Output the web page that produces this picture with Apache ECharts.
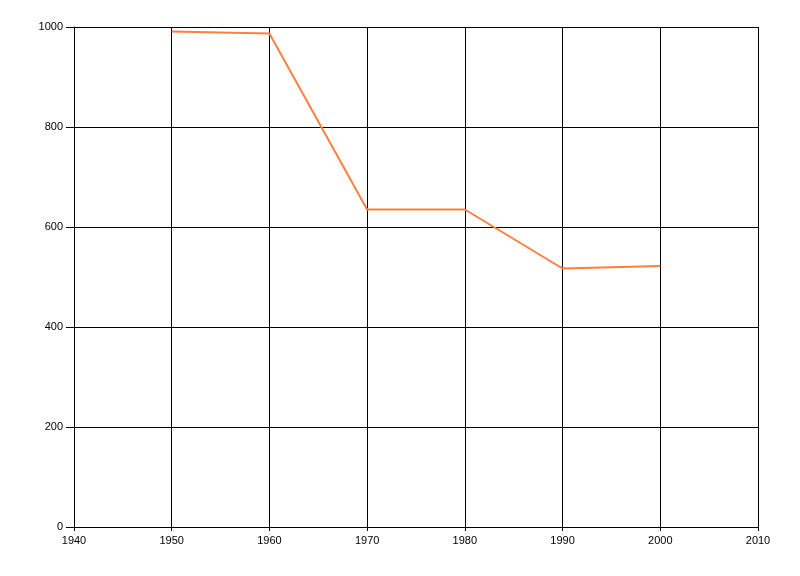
<!DOCTYPE html>
<html><head><meta charset="utf-8">
<script src="https://cdn.jsdelivr.net/npm/echarts@6/dist/echarts.min.js"></script>
<style>html,body{margin:0;padding:0;background:#fff}#c{width:800px;height:576px}</style>
</head><body><div id="c"></div>
<script>
const years = [1950, 1960, 1970, 1980, 1990, 2000];
const values = [991, 987, 635, 635, 517, 522];
const chart = echarts.init(document.getElementById('c'));
chart.setOption({
  animation: false,
  backgroundColor: '#fff',
  grid: {left: 74, right: 42, top: 27, bottom: 49, containLabel: false},
  xAxis: {
    type: 'value', min: 1940, max: 2010, interval: 10,
    axisLine: {show: true, lineStyle: {color: '#000', width: 1}},
    axisTick: {show: true, length: 4, lineStyle: {color: '#000'}},
    axisLabel: {color: '#000', fontFamily: 'Liberation Sans', fontSize: 11, margin: 8, formatter: v => String(v)},
    splitLine: {show: true, lineStyle: {color: '#000', width: 1}}
  },
  yAxis: {
    type: 'value', min: 0, max: 1000, interval: 200,
    axisLine: {show: true, lineStyle: {color: '#000', width: 1}},
    axisTick: {show: true, length: 8, lineStyle: {color: '#000'}},
    axisLabel: {color: '#000', fontFamily: 'Liberation Sans', fontSize: 11, margin: 11, formatter: v => String(v)},
    splitLine: {show: true, lineStyle: {color: '#000', width: 1}}
  },
  series: [{
    type: 'line',
    data: years.map((y, i) => [y, values[i]]),
    showSymbol: false,
    lineStyle: {color: '#FF7F3F', width: 2},
    itemStyle: {color: '#FF7F3F'}
  }]
});
</script></body></html>
